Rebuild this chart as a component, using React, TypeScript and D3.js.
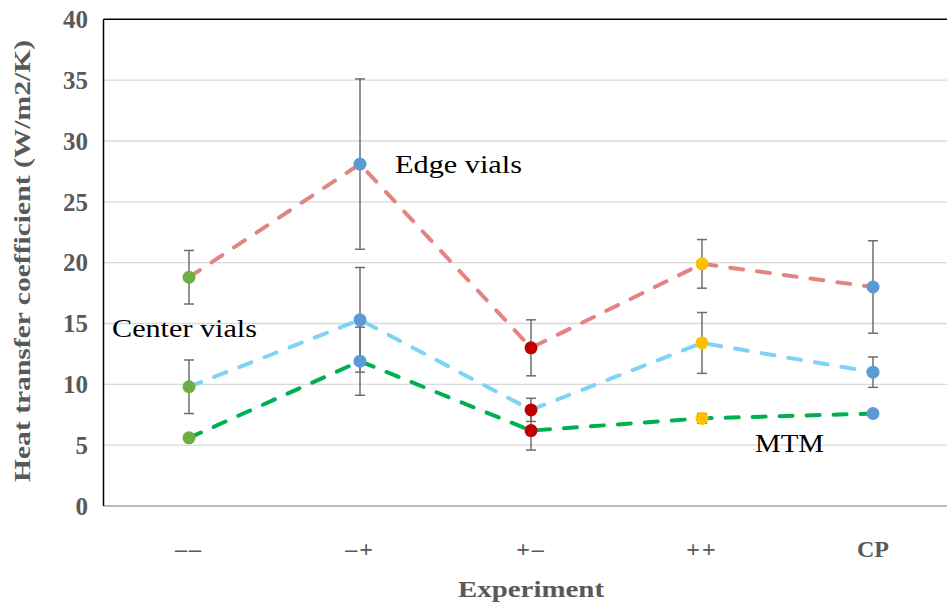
import React from "react";
import * as d3 from "d3";

// Experiment conditions along the x axis
const categories = ["––", "–+", "+–", "++", "CP"];

// Heat transfer coefficients (W/m2/K) per series, with their error amounts
const edgeValues = [18.8, 28.1, 13.0, 19.9, 18.0];
const edgeErrors = [2.2, 7.0, 2.3, 2.0, 3.8];

const centerValues = [9.8, 15.3, 7.9, 13.4, 11.0];
const centerErrors = [2.2, 4.3, 0.95, 2.5, 1.25];

const mtmValues = [5.6, 11.9, 6.2, 7.2, 7.6];
const mtmErrors = [0, 2.8, 1.6, 0.4, 0.2];

// Marker colour per experiment
const markerColors = ["#70AD47", "#5B9BD5", "#C00000", "#FFC000", "#5B9BD5"];

const yTicks = [0, 5, 10, 15, 20, 25, 30, 35, 40];

const W = 947;
const H = 606;
const left = 103.5;
const top = 19.3;
const bottom = 506;
const bandW = 171;

const SERIF = "'Liberation Serif', 'DejaVu Serif', serif";

export default function App() {
  const x = d3
    .scaleBand<string>()
    .domain(categories)
    .range([left, left + bandW * categories.length]);
  const y = d3.scaleLinear().domain([0, 40]).range([bottom, top]);
  const cx = (i: number) => (x(categories[i]) as number) + x.bandwidth() / 2;

  const line = d3
    .line<number>()
    .x((_, i) => cx(i))
    .y((d) => y(d));

  const series = [
    { values: edgeValues, errors: edgeErrors, color: "#E38482" },
    { values: centerValues, errors: centerErrors, color: "#7FD3F5" },
    { values: mtmValues, errors: mtmErrors, color: "#00B050" },
  ];

  return (
    <svg
      width={W}
      height={H}
      style={{ position: "absolute", left: 0, top: 0, background: "#fff" }}
    >
      {/* horizontal gridlines */}
      {yTicks.map((t) =>
        t === 0 || t === 40 ? null : (
          <line
            key={t}
            x1={left}
            x2={W}
            y1={y(t)}
            y2={y(t)}
            stroke="#D9D9D9"
            strokeWidth={1.3}
          />
        )
      )}
      {/* plot frame */}
      <line x1={left} x2={W} y1={y(0)} y2={y(0)} stroke="#A6A6A6" strokeWidth={1.5} />
      <line x1={left} x2={W} y1={y(40)} y2={y(40)} stroke="#000" strokeWidth={1.5} />
      <line x1={left} x2={left} y1={y(40)} y2={y(0)} stroke="#000" strokeWidth={1.5} />

      {/* y tick labels */}
      {yTicks.map((t) => (
        <text
          key={t}
          x={88}
          y={y(t)}
          dy="0.35em"
          textAnchor="end"
          fontFamily={SERIF}
          fontWeight="bold"
          fontSize={25}
          fill="#595959"
        >
          {t}
        </text>
      ))}

      {/* x tick labels */}
      {categories.map((c, i) => (
        <text
          key={c}
          x={cx(i)}
          y={557}
          textAnchor="middle"
          fontFamily={SERIF}
          fontWeight="bold"
          fontSize={24}
          letterSpacing={c === "CP" ? 0 : 2}
          fill="#595959"
        >
          {c}
        </text>
      ))}

      {/* axis titles */}
      <text
        transform={`translate(30,${(40 + 482) / 2}) rotate(-90)`}
        textAnchor="middle"
        fontFamily={SERIF}
        fontWeight="bold"
        fontSize={24}
        fill="#595959"
        textLength={442}
        lengthAdjust="spacingAndGlyphs"
      >
        Heat transfer coefficient (W/m2/K)
      </text>
      <text
        x={531}
        y={597}
        textAnchor="middle"
        fontFamily={SERIF}
        fontWeight="bold"
        fontSize={24}
        fill="#595959"
        textLength={146}
        lengthAdjust="spacingAndGlyphs"
      >
        Experiment
      </text>

      {/* dashed series lines */}
      {series.map((s, k) => (
        <path
          key={k}
          d={line(s.values) as string}
          fill="none"
          stroke={s.color}
          strokeWidth={4}
          strokeDasharray="13 14"
          strokeLinecap="round"
        />
      ))}

      {/* error bars */}
      {series.map((s, k) =>
        s.values.map((v, i) => {
          const e = s.errors[i];
          if (!e) return null;
          const x0 = cx(i);
          const y1 = y(v + e);
          const y2 = y(v - e);
          return (
            <g key={`${k}-${i}`} stroke="#6E6E6E" strokeWidth={1.5}>
              <line x1={x0} x2={x0} y1={y1} y2={y2} />
              <line x1={x0 - 5} x2={x0 + 5} y1={y1} y2={y1} />
              <line x1={x0 - 5} x2={x0 + 5} y1={y2} y2={y2} />
            </g>
          );
        })
      )}

      {/* markers */}
      {series.map((s, k) =>
        s.values.map((v, i) => (
          <circle
            key={`${k}-${i}`}
            cx={cx(i)}
            cy={y(v)}
            r={6.5}
            fill={markerColors[i]}
          />
        ))
      )}

      {/* series labels */}
      <text
        x={395}
        y={173}
        fontFamily={SERIF}
        fontSize={26}
        fill="#000"
        textLength={127}
        lengthAdjust="spacingAndGlyphs"
      >
        Edge vials
      </text>
      <text
        x={112}
        y={337}
        fontFamily={SERIF}
        fontSize={26}
        fill="#000"
        textLength={145}
        lengthAdjust="spacingAndGlyphs"
      >
        Center vials
      </text>
      <text
        x={755}
        y={452}
        fontFamily={SERIF}
        fontSize={26}
        fill="#000"
        textLength={69}
        lengthAdjust="spacingAndGlyphs"
      >
        MTM
      </text>
    </svg>
  );
}
